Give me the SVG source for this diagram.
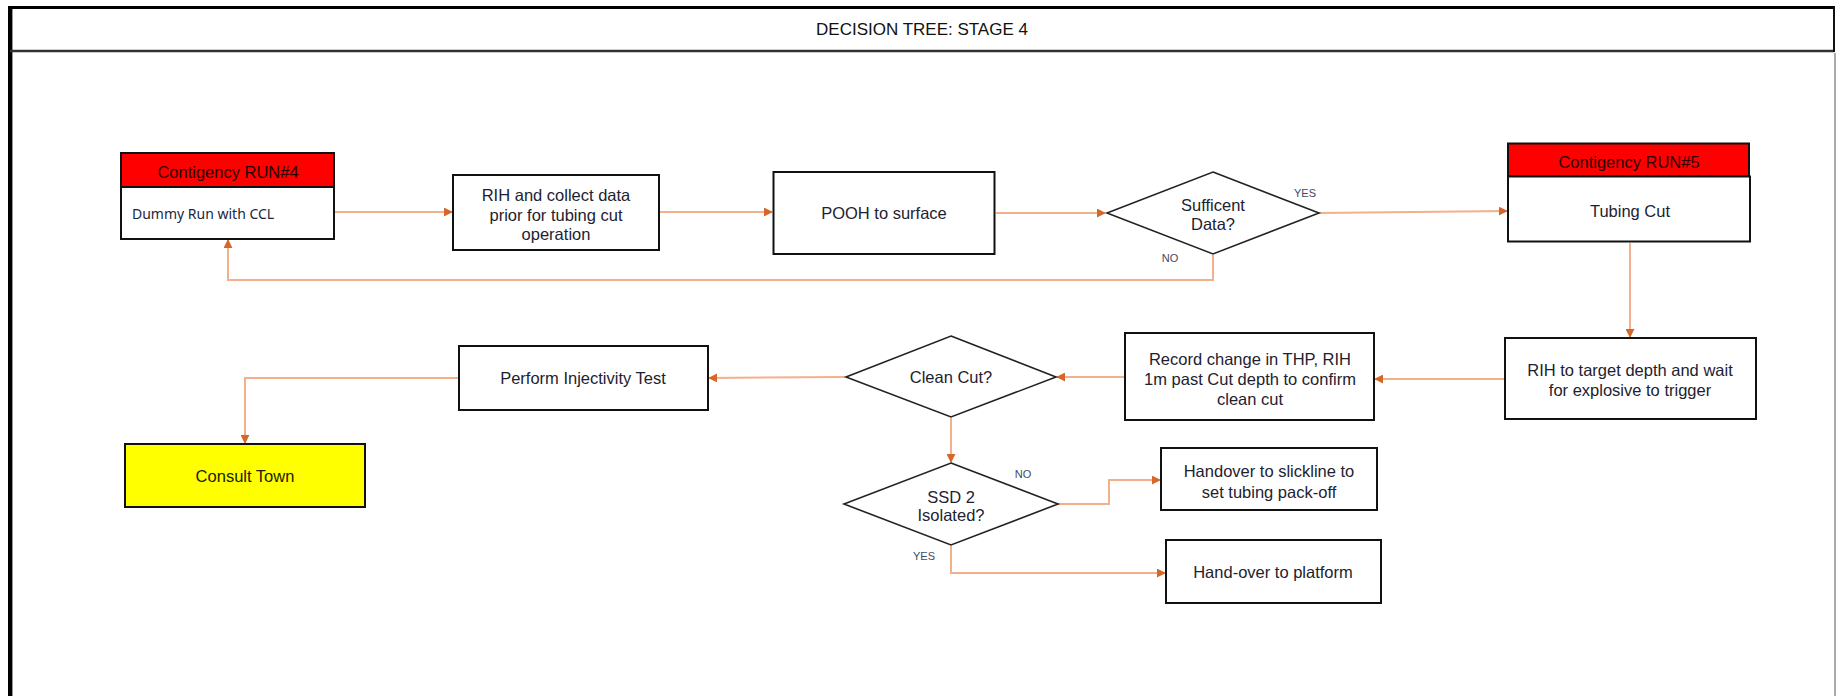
<svg xmlns="http://www.w3.org/2000/svg" width="1836" height="696" viewBox="0 0 1836 696">
<style>
.box{fill:#ffffff;stroke:#111111;stroke-width:2}
.red{fill:#FF0000;stroke:#111111;stroke-width:2}
.yel{fill:#FFFF00;stroke:#111111;stroke-width:2}
.dia{fill:#ffffff;stroke:#222222;stroke-width:1.6}
.t{font-family:"Liberation Sans",Arial,sans-serif;font-size:16.5px;fill:#1e2230;text-anchor:middle}
.h{font-family:"Liberation Sans",Arial,sans-serif;font-size:16.5px;fill:#2a0000;text-anchor:middle}
.lb{font-family:"Liberation Sans",Arial,sans-serif;font-size:11px;fill:#3d4a66;text-anchor:middle}
.conn{fill:none;stroke:#F2B08C;stroke-width:2}
</style>
<defs>
<marker id="arr" viewBox="0 0 10 10" refX="9" refY="5" markerWidth="9" markerHeight="9" markerUnits="userSpaceOnUse" orient="auto">
<path d="M0,0 L10,5 L0,10 z" fill="#D6672A"/>
</marker>
</defs>
<rect width="1836" height="696" fill="#ffffff"/>
<g id="frame">
<line x1="8" y1="7.5" x2="1835" y2="7.5" stroke="#000" stroke-width="3"/>
<line x1="10" y1="6" x2="10" y2="696" stroke="#000" stroke-width="4"/>
<line x1="12.5" y1="9" x2="12.5" y2="696" stroke="#999" stroke-width="1"/>
<line x1="10" y1="51" x2="1834" y2="51" stroke="#333" stroke-width="2.5"/>
<line x1="1834" y1="7" x2="1834" y2="52" stroke="#111" stroke-width="2"/>
<line x1="1835" y1="53" x2="1835" y2="696" stroke="#aaa" stroke-width="2"/>
<text x="922" y="35" class="t" style="font-size:17px;fill:#111">DECISION TREE: STAGE 4</text>
</g>
<g id="connectors">
<line class="conn" x1="335" y1="212" x2="452" y2="212" marker-end="url(#arr)"/>
<line class="conn" x1="660" y1="212" x2="772" y2="212" marker-end="url(#arr)"/>
<line class="conn" x1="996" y1="213" x2="1105" y2="213" marker-end="url(#arr)"/>
<line class="conn" x1="1319" y1="213" x2="1507" y2="211" marker-end="url(#arr)"/>
<polyline class="conn" points="1213,255 1213,280 228,280 228,240" marker-end="url(#arr)"/>
<line class="conn" x1="1630" y1="243" x2="1630" y2="337" marker-end="url(#arr)"/>
<line class="conn" x1="1504" y1="379" x2="1375" y2="379" marker-end="url(#arr)"/>
<line class="conn" x1="1124" y1="377" x2="1057" y2="377" marker-end="url(#arr)"/>
<line class="conn" x1="845" y1="377" x2="709" y2="378" marker-end="url(#arr)"/>
<polyline class="conn" points="458,378 245,378 245,443" marker-end="url(#arr)"/>
<line class="conn" x1="951" y1="418" x2="951" y2="462" marker-end="url(#arr)"/>
<polyline class="conn" points="1058,504 1109,504 1109,480 1160,480" marker-end="url(#arr)"/>
<polyline class="conn" points="951,546 951,573 1165,573" marker-end="url(#arr)"/>
<text x="1305" y="197" class="lb">YES</text>
<text x="1170" y="262" class="lb">NO</text>
<text x="1023" y="478" class="lb">NO</text>
<text x="924" y="560" class="lb">YES</text>
</g>
<g id="run4">
<rect class="red" x="121" y="153" width="213" height="34"/>
<rect class="box" x="121" y="187" width="213" height="52"/>
<text x="228" y="178" class="h">Contigency RUN#4</text>
<text x="132" y="219" class="t" style="text-anchor:start;font-size:14px;font-family:'Noto Sans','Liberation Sans',sans-serif;fill:#1c2540">Dummy Run with CCL</text>
</g>
<g id="rih-collect">
<rect class="box" x="453" y="175" width="206" height="75"/>
<text x="556" y="201" class="t">RIH and collect data</text>
<text x="556" y="221" class="t">prior for tubing cut</text>
<text x="556" y="240" class="t">operation</text>
</g>
<g id="pooh">
<rect class="box" x="773.5" y="172" width="221" height="82"/>
<text x="884" y="219" class="t">POOH to surface</text>
</g>
<g id="sufficient">
<polygon class="dia" points="1213,172 1319,213 1213,254 1107,213"/>
<text x="1213" y="211" class="t">Sufficent</text>
<text x="1213" y="230" class="t">Data?</text>
</g>
<g id="run5">
<rect class="red" x="1508" y="143.5" width="241" height="33"/>
<rect class="box" x="1508" y="176.5" width="242" height="65"/>
<text x="1629" y="167.5" class="h">Contigency RUN#5</text>
<text x="1630" y="217" class="t">Tubing Cut</text>
</g>
<g id="rih-target">
<rect class="box" x="1505" y="338" width="251" height="81"/>
<text x="1630" y="376" class="t">RIH to target depth and wait</text>
<text x="1630" y="396" class="t">for explosive to trigger</text>
</g>
<g id="record">
<rect class="box" x="1125" y="333" width="249" height="87"/>
<text x="1250" y="365" class="t">Record change in THP, RIH</text>
<text x="1250" y="385" class="t">1m past Cut depth to confirm</text>
<text x="1250" y="405" class="t">clean cut</text>
</g>
<g id="clean-cut">
<polygon class="dia" points="951,336 1056,377 951,417 846,377"/>
<text x="951" y="383" class="t">Clean Cut?</text>
</g>
<g id="injectivity">
<rect class="box" x="459" y="346" width="249" height="64"/>
<text x="583" y="384" class="t">Perform Injectivity Test</text>
</g>
<g id="consult">
<rect class="yel" x="125" y="444" width="240" height="63"/>
<text x="245" y="482" class="t" style="fill:#1a2200">Consult Town</text>
</g>
<g id="ssd2">
<polygon class="dia" points="951,463 1058,504 951,545 844,504"/>
<text x="951" y="503" class="t">SSD 2</text>
<text x="951" y="521" class="t">Isolated?</text>
</g>
<g id="handover-slickline">
<rect class="box" x="1161" y="448" width="216" height="62"/>
<text x="1269" y="477" class="t">Handover to slickline to</text>
<text x="1269" y="498" class="t">set tubing pack-off</text>
</g>
<g id="handover-platform">
<rect class="box" x="1166" y="540" width="215" height="63"/>
<text x="1273" y="578" class="t">Hand-over to platform</text>
</g>
</svg>
